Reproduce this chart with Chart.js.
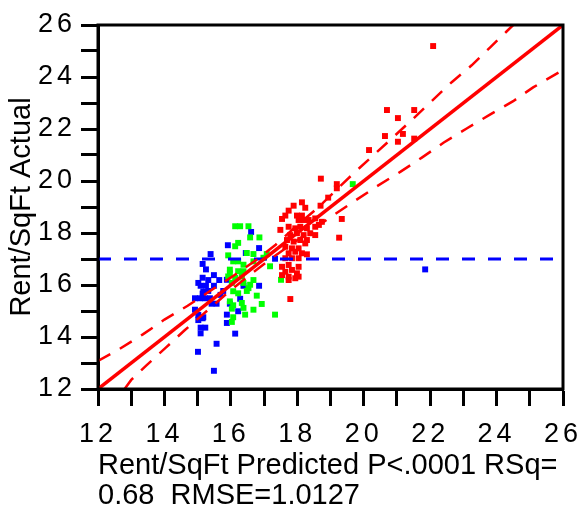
<!DOCTYPE html>
<html>
<head>
<meta charset="utf-8">
<script src="https://cdn.jsdelivr.net/npm/chart.js@4.4.1/dist/chart.umd.min.js"></script>
<style>
  html, body { margin: 0; padding: 0; background: #fff; }
</style>
</head>
<body>
<canvas id="leverage-plot" width="583" height="510"></canvas>
<script>
  // axis ticks
  var tickValues = [12, 14, 16, 18, 20, 22, 24, 26];

  // blue group
  var blueX = [16.61, 15.91, 16.85, 15.39, 16.45, 17.33, 15.15, 15.25, 15.49, 15.15, 15.65, 15.32, 15.02, 15.88,
               15.25, 15.49, 16.38, 16.85, 15.09, 15.32, 15.77, 15.15, 14.92, 15.07, 15.22, 15.37, 15.69, 16.28,
               15.57, 15.42, 15.97, 14.92, 16.22, 15.02, 15.15, 15.88, 15.02, 15.88, 15.23, 15.09, 15.09, 16.13,
               15.57, 15.01, 15.49, 21.85, 15.17, 15.17];
  var blueY = [18.04, 17.53, 17.42, 17.19, 17.23, 17.01, 16.81, 16.6, 16.38, 16.28, 16.19, 16.19, 16.08, 16.2,
               15.97, 15.97, 15.97, 15.97, 15.97, 15.77, 15.77, 15.67, 15.49, 15.49, 15.49, 15.49, 15.62, 15.47,
               15.28, 15.28, 15.28, 15.05, 14.99, 14.85, 14.72, 14.86, 14.65, 14.54, 14.36, 14.36, 14.14, 14.13,
               13.74, 13.43, 12.7, 16.6, 15.74, 14.76];

  // green group
  var greenX = [16.13, 16.28, 16.53, 16.58, 16.86, 16.22, 16.13, 15.92, 16.48, 16.68, 17.08, 16.98, 16.07, 16.22,
                16.38, 16.68, 17.18, 15.97, 16.22, 16.38, 15.92, 16.13, 16.33, 16.03, 16.38, 16.53, 16.58, 16.07,
                16.48, 16.78, 15.97, 16.07, 16.33, 16.38, 16.93, 16.68, 16.03, 16.43, 16.07, 16.03, 17.33, 17.51,
                19.67, 16.22, 15.97, 16.68];
  var greenY = [18.26, 18.26, 18.26, 17.83, 17.83, 17.62, 17.49, 17.14, 17.23, 17.19, 17.19, 17.05, 16.91, 16.91,
                16.78, 16.91, 16.72, 16.59, 16.53, 16.53, 16.33, 16.27, 16.33, 16.08, 16.08, 15.88, 16.01, 15.76,
                15.77, 15.59, 15.37, 15.22, 15.31, 15.12, 15.27, 15.05, 15.09, 14.86, 14.76, 14.58, 14.86, 16.2,
                19.88, 15.68, 16.45, 16.19];

  // red group
  var redX = [18.14, 17.89, 18.24, 17.74, 18.7, 17.64, 17.54, 17.99, 18.14, 18.04, 18.19, 18.34, 18.54, 18.74,
              17.49, 17.74, 17.94, 18.09, 18.29, 18.54, 18.65, 17.79, 17.99, 18.19, 18.39, 18.54, 17.69, 17.89,
              18.09, 18.29, 17.64, 17.84, 18.04, 18.24, 17.74, 17.94, 18.14, 18.29, 17.64, 17.84, 18.04, 17.54,
              17.74, 18.04, 17.64, 17.84, 17.99, 17.54, 17.74, 18.04, 17.74, 17.94, 17.79,
              18.71, 19.19, 19.19, 18.93, 19.34, 19.26,
              22.09, 20.7, 21.52, 21.03, 20.64, 21.18, 21.03, 21.52, 20.16];
  var redY = [19.18, 19.05, 18.97, 18.86, 19.05, 18.67, 18.54, 18.67, 18.67, 18.5, 18.5, 18.5, 18.56, 18.43,
              18.12, 18.24, 18.18, 18.24, 18.18, 18.24, 18.31, 17.92, 17.99, 17.92, 17.99, 17.92, 17.73, 17.67,
              17.73, 17.73, 17.47, 17.41, 17.41, 17.6, 17.22, 17.28, 17.22, 17.18, 17.03, 17.03, 17.03, 16.7,
              16.77, 16.7, 16.51, 16.58, 16.45, 16.38, 16.32, 16.32, 16.19, 16.26, 15.46,
              20.09, 19.88, 19.72, 19.36, 18.54, 17.82,
              25.19, 22.73, 22.73, 22.42, 21.73, 21.81, 21.51, 21.63, 21.19];

  // fit line, confidence curves, mean of response
  var fitX = [12, 26];
  var fitY = [12, 26];
  var upperX = [12, 12.6, 13.35, 14.0, 14.7, 15.35, 16.05, 16.7, 17.35, 18.0, 18.6, 19.7, 20.3, 20.9, 21.45,
                22.05, 22.65, 23.25, 23.8, 24.3, 24.5];
  var upperY = [13.08, 13.5, 14.1, 14.67, 15.2, 15.75, 16.33, 16.9, 17.55, 18.3, 18.95, 20.3, 21.0, 21.7, 22.35,
                23.08, 23.8, 24.45, 25.13, 25.75, 26.0];
  var lowerX = [12.8, 13.0, 13.45, 14.05, 14.6, 15.25, 15.9, 16.6, 17.3, 18.2, 19.05, 19.75, 20.4, 21.1, 21.75,
                22.4, 23.1, 23.8, 24.5, 25.1, 26];
  var lowerY = [12.0, 12.35, 12.9, 13.6, 14.25, 14.97, 15.7, 16.42, 17.1, 17.9, 18.65, 19.25, 19.8, 20.35, 20.9,
                21.47, 22.02, 22.55, 23.07, 23.6, 24.27];
  var meanX = [12, 26];
  var meanY = [17, 17];

  function pts(xs, ys) {
    var out = [];
    for (var i = 0; i < xs.length; i++) {
      out.push({x: xs[i], y: ys[i]});
    }
    return out;
  }

  var fontFace = "'Liberation Sans', Arial, sans-serif";

  function lineSet(xs, ys, color, width, dash) {
    return {
      type: 'line',
      data: pts(xs, ys),
      borderColor: color,
      borderWidth: width,
      borderDash: dash,
      pointRadius: 0,
      fill: false,
      tension: 0
    };
  }

  function dotSet(xs, ys, color) {
    return {
      type: 'scatter',
      data: pts(xs, ys),
      backgroundColor: color,
      pointStyle: 'rect',
      pointRadius: 4.2,
      pointBorderWidth: 0,
      borderWidth: 0
    };
  }

  function tickLabel(value) {
    return tickValues.indexOf(value) >= 0 ? String(value) : '';
  }

  // frame round the plot, spaced tick digits, axis titles
  var plotDecor = {
    id: 'plotDecor',
    beforeDraw: function (chart) {
      chart.ctx.letterSpacing = '4px';
    },
    afterDraw: function (chart) {
      var ctx = chart.ctx, a = chart.chartArea;
      ctx.save();
      ctx.letterSpacing = '0px';
      ctx.strokeStyle = '#000';
      ctx.lineWidth = 3;
      ctx.strokeRect(a.left, a.top, a.right - a.left, a.bottom - a.top);

      ctx.fillStyle = '#000';
      ctx.font = '29px ' + fontFace;
      ctx.textBaseline = 'middle';
      ctx.textAlign = 'left';
      ctx.fillText('Rent/SqFt Predicted P<.0001 RSq=', a.left, 466);
      ctx.fillText('0.68  RMSE=1.0127', a.left, 496);

      ctx.translate(22, (a.top + a.bottom) / 2);
      ctx.rotate(-Math.PI / 2);
      ctx.textAlign = 'center';
      ctx.fillText('Rent/SqFt Actual', 0, 0);
      ctx.restore();
    }
  };

  var axisStyle = {
    type: 'linear',
    min: 12,
    max: 26,
    grid: { drawOnChartArea: false, drawTicks: true, tickLength: 17, tickWidth: 3, tickColor: '#000' },
    border: { display: true, color: '#000', width: 3 },
    title: { display: false }
  };

  new Chart(document.getElementById('leverage-plot'), {
    data: {
      datasets: [
        lineSet(upperX, upperY, '#ff0000', 2.5, [14, 11]),
        lineSet(lowerX, lowerY, '#ff0000', 2.5, [14, 11]),
        lineSet(fitX, fitY, '#ff0000', 3.5, []),
        lineSet(meanX, meanY, '#0000ff', 3, [13, 13]),
        dotSet(redX, redY, '#ff0000'),
        dotSet(greenX, greenY, '#00ff00'),
        dotSet(blueX, blueY, '#0000ff')
      ]
    },
    options: {
      responsive: false,
      animation: false,
      layout: { padding: { left: 0, right: 20, top: 25, bottom: 0 } },
      plugins: { legend: { display: false }, tooltip: { enabled: false } },
      scales: {
        x: Object.assign({}, axisStyle, {
          position: 'bottom',
          ticks: { stepSize: 1, autoSkip: false, maxRotation: 0, padding: 12, color: '#000',
                   font: { family: fontFace, size: 27 }, callback: tickLabel },
          afterFit: function (scale) {
            scale.height = 121;
            scale.paddingLeft = 0;
            scale.paddingRight = 0;
          }
        }),
        y: Object.assign({}, axisStyle, {
          position: 'left',
          ticks: { stepSize: 1, autoSkip: false, padding: 5, color: '#000',
                   font: { family: fontFace, size: 27 }, callback: tickLabel },
          afterFit: function (scale) {
            scale.width = 98;
            scale.paddingTop = 0;
            scale.paddingBottom = 0;
          }
        })
      }
    },
    plugins: [plotDecor]
  });
</script>
</body>
</html>
